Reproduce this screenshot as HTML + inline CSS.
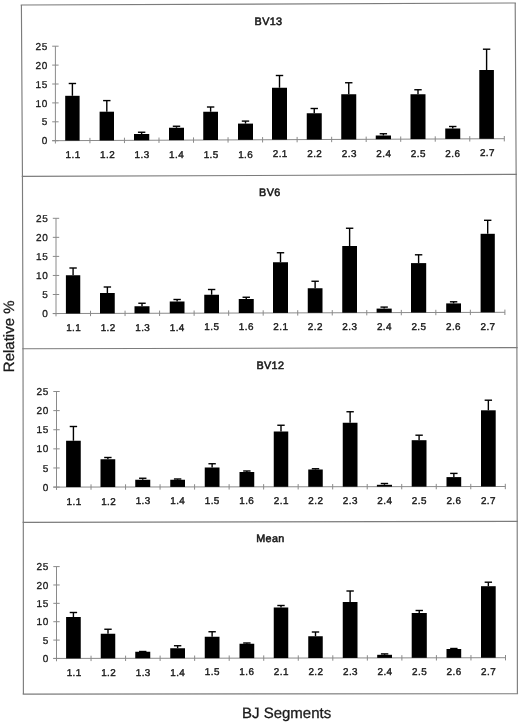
<!DOCTYPE html>
<html><head><meta charset="utf-8"><style>
html,body{margin:0;padding:0;background:#fff;}
body{width:520px;height:722px;overflow:hidden;}
svg{display:block;will-change:transform;}
text{font-family:"Liberation Sans",sans-serif;fill:#1a1a1a;text-rendering:geometricPrecision;}
.yl{font-size:10px;text-anchor:end;letter-spacing:0.6px;stroke:#1a1a1a;stroke-width:0.3px;}
.xl{font-size:9.9px;text-anchor:middle;stroke:#1a1a1a;stroke-width:0.4px;letter-spacing:0.45px;}
.tt{font-size:10.8px;text-anchor:middle;stroke:#1a1a1a;stroke-width:0.55px;letter-spacing:0.35px;}
.at{font-size:15px;text-anchor:middle;stroke:#1a1a1a;stroke-width:0.3px;}
rect{fill:#000;}
.eb{stroke:#000;stroke-width:1.4;}
</style></head><body>
<svg width="520" height="722" viewBox="0 0 520 722">
<rect x="0" y="0" width="520" height="722" style="fill:#fff"/>
<polyline points="21.4,5.05 22.45,176.44 23,348.75 23.3,522.4 23.4,694.1" fill="none" stroke="#7c7c7c" stroke-width="1.15"/>
<polyline points="515.2,3 516.15,174.4 516.9,347.6 517.2,521.4 517.4,693.7" fill="none" stroke="#7c7c7c" stroke-width="1.15"/>
<line x1="20.7" y1="5.05" x2="515.9" y2="3" stroke="#7c7c7c" stroke-width="1.15"/>
<line x1="21.75" y1="176.44" x2="516.85" y2="174.4" stroke="#7c7c7c" stroke-width="1.15"/>
<line x1="22.3" y1="348.75" x2="517.6" y2="347.6" stroke="#7c7c7c" stroke-width="1.15"/>
<line x1="22.6" y1="522.4" x2="517.9" y2="521.4" stroke="#7c7c7c" stroke-width="1.15"/>
<line x1="22.7" y1="694.1" x2="518.1" y2="693.7" stroke="#7c7c7c" stroke-width="1.15"/>
<line x1="55.4" y1="46.2" x2="55.4" y2="143.5" stroke="#8a8a8a" stroke-width="1"/>
<line x1="52.2" y1="140.7" x2="504.3" y2="138.7" stroke="#8a8a8a" stroke-width="1"/>
<line x1="52.2" y1="140.7" x2="58.6" y2="140.7" stroke="#8a8a8a" stroke-width="1"/>
<text x="47.8" y="144.3" class="yl">0</text>
<line x1="52.2" y1="121.8" x2="58.6" y2="121.8" stroke="#8a8a8a" stroke-width="1"/>
<text x="47.8" y="125.4" class="yl">5</text>
<line x1="52.2" y1="102.9" x2="58.6" y2="102.9" stroke="#8a8a8a" stroke-width="1"/>
<text x="47.8" y="106.5" class="yl">10</text>
<line x1="52.2" y1="84" x2="58.6" y2="84" stroke="#8a8a8a" stroke-width="1"/>
<text x="47.8" y="87.6" class="yl">15</text>
<line x1="52.2" y1="65.1" x2="58.6" y2="65.1" stroke="#8a8a8a" stroke-width="1"/>
<text x="47.8" y="68.7" class="yl">20</text>
<line x1="52.2" y1="46.2" x2="58.6" y2="46.2" stroke="#8a8a8a" stroke-width="1"/>
<text x="47.8" y="49.8" class="yl">25</text>
<line x1="89.93" y1="137.85" x2="89.93" y2="143.25" stroke="#8a8a8a" stroke-width="1"/>
<line x1="124.46" y1="137.69" x2="124.46" y2="143.09" stroke="#8a8a8a" stroke-width="1"/>
<line x1="158.99" y1="137.54" x2="158.99" y2="142.94" stroke="#8a8a8a" stroke-width="1"/>
<line x1="193.52" y1="137.38" x2="193.52" y2="142.78" stroke="#8a8a8a" stroke-width="1"/>
<line x1="228.05" y1="137.23" x2="228.05" y2="142.63" stroke="#8a8a8a" stroke-width="1"/>
<line x1="262.58" y1="137.08" x2="262.58" y2="142.48" stroke="#8a8a8a" stroke-width="1"/>
<line x1="297.12" y1="136.92" x2="297.12" y2="142.32" stroke="#8a8a8a" stroke-width="1"/>
<line x1="331.65" y1="136.77" x2="331.65" y2="142.17" stroke="#8a8a8a" stroke-width="1"/>
<line x1="366.18" y1="136.62" x2="366.18" y2="142.02" stroke="#8a8a8a" stroke-width="1"/>
<line x1="400.71" y1="136.46" x2="400.71" y2="141.86" stroke="#8a8a8a" stroke-width="1"/>
<line x1="435.24" y1="136.31" x2="435.24" y2="141.71" stroke="#8a8a8a" stroke-width="1"/>
<line x1="469.77" y1="136.15" x2="469.77" y2="141.55" stroke="#8a8a8a" stroke-width="1"/>
<line x1="504.3" y1="136" x2="504.3" y2="141.4" stroke="#8a8a8a" stroke-width="1"/>
<rect x="65.2" y="95.8" width="14.4" height="44.82"/>
<line x1="72.4" y1="83.5" x2="72.4" y2="95.8" class="eb"/>
<line x1="68.7" y1="83.5" x2="76.1" y2="83.5" class="eb"/>
<text x="73.07" y="158.32" class="xl">1.1</text>
<rect x="99.6" y="111.7" width="14.4" height="28.77"/>
<line x1="106.8" y1="100.6" x2="106.8" y2="111.7" class="eb"/>
<line x1="103.1" y1="100.6" x2="110.5" y2="100.6" class="eb"/>
<text x="107.6" y="158.17" class="xl">1.2</text>
<rect x="134" y="134" width="15.25" height="6.32"/>
<line x1="141.62" y1="132.25" x2="141.62" y2="134" class="eb"/>
<line x1="137.93" y1="132.25" x2="145.32" y2="132.25" class="eb"/>
<text x="142.13" y="158.01" class="xl">1.3</text>
<rect x="169" y="127.75" width="15" height="12.41"/>
<line x1="176.5" y1="126.25" x2="176.5" y2="127.75" class="eb"/>
<line x1="172.8" y1="126.25" x2="180.2" y2="126.25" class="eb"/>
<text x="176.66" y="157.86" class="xl">1.4</text>
<rect x="203.25" y="111.75" width="14.75" height="28.26"/>
<line x1="210.62" y1="107" x2="210.62" y2="111.75" class="eb"/>
<line x1="206.93" y1="107" x2="214.32" y2="107" class="eb"/>
<text x="211.19" y="157.71" class="xl">1.5</text>
<rect x="238" y="123.6" width="15" height="16.25"/>
<line x1="245.5" y1="121.1" x2="245.5" y2="123.6" class="eb"/>
<line x1="241.8" y1="121.1" x2="249.2" y2="121.1" class="eb"/>
<text x="245.72" y="157.55" class="xl">1.6</text>
<rect x="272" y="87.75" width="15" height="51.95"/>
<line x1="279.5" y1="75.5" x2="279.5" y2="87.75" class="eb"/>
<line x1="275.8" y1="75.5" x2="283.2" y2="75.5" class="eb"/>
<text x="280.25" y="157.4" class="xl">2.1</text>
<rect x="306.75" y="113.25" width="15" height="26.3"/>
<line x1="314.25" y1="108.5" x2="314.25" y2="113.25" class="eb"/>
<line x1="310.55" y1="108.5" x2="317.95" y2="108.5" class="eb"/>
<text x="314.78" y="157.24" class="xl">2.2</text>
<rect x="341.25" y="94.25" width="15" height="45.14"/>
<line x1="348.75" y1="82.75" x2="348.75" y2="94.25" class="eb"/>
<line x1="345.05" y1="82.75" x2="352.45" y2="82.75" class="eb"/>
<text x="349.31" y="157.09" class="xl">2.3</text>
<rect x="375.75" y="135.5" width="15.25" height="3.74"/>
<line x1="383.38" y1="133.75" x2="383.38" y2="135.5" class="eb"/>
<line x1="379.68" y1="133.75" x2="387.07" y2="133.75" class="eb"/>
<text x="383.84" y="156.94" class="xl">2.4</text>
<rect x="410.5" y="94.25" width="15" height="44.83"/>
<line x1="418" y1="89.75" x2="418" y2="94.25" class="eb"/>
<line x1="414.3" y1="89.75" x2="421.7" y2="89.75" class="eb"/>
<text x="418.37" y="156.78" class="xl">2.5</text>
<rect x="445.25" y="128.5" width="15" height="10.43"/>
<line x1="452.75" y1="126.5" x2="452.75" y2="128.5" class="eb"/>
<line x1="449.05" y1="126.5" x2="456.45" y2="126.5" class="eb"/>
<text x="452.9" y="156.63" class="xl">2.6</text>
<rect x="479.3" y="70" width="14.6" height="68.78"/>
<line x1="486.6" y1="49.2" x2="486.6" y2="70" class="eb"/>
<line x1="482.9" y1="49.2" x2="490.3" y2="49.2" class="eb"/>
<text x="487.43" y="156.48" class="xl">2.7</text>
<text x="268.5" y="24.9" class="tt">BV13</text>
<line x1="56" y1="218.3" x2="56" y2="316.36" stroke="#8a8a8a" stroke-width="1"/>
<line x1="52.8" y1="313.56" x2="504.9" y2="312.3" stroke="#8a8a8a" stroke-width="1"/>
<line x1="52.8" y1="313.56" x2="59.2" y2="313.56" stroke="#8a8a8a" stroke-width="1"/>
<text x="48.4" y="317.16" class="yl">0</text>
<line x1="52.8" y1="294.51" x2="59.2" y2="294.51" stroke="#8a8a8a" stroke-width="1"/>
<text x="48.4" y="298.11" class="yl">5</text>
<line x1="52.8" y1="275.46" x2="59.2" y2="275.46" stroke="#8a8a8a" stroke-width="1"/>
<text x="48.4" y="279.06" class="yl">10</text>
<line x1="52.8" y1="256.4" x2="59.2" y2="256.4" stroke="#8a8a8a" stroke-width="1"/>
<text x="48.4" y="260" class="yl">15</text>
<line x1="52.8" y1="237.35" x2="59.2" y2="237.35" stroke="#8a8a8a" stroke-width="1"/>
<text x="48.4" y="240.95" class="yl">20</text>
<line x1="52.8" y1="218.3" x2="59.2" y2="218.3" stroke="#8a8a8a" stroke-width="1"/>
<text x="48.4" y="221.9" class="yl">25</text>
<line x1="90.53" y1="310.76" x2="90.53" y2="316.16" stroke="#8a8a8a" stroke-width="1"/>
<line x1="125.06" y1="310.67" x2="125.06" y2="316.07" stroke="#8a8a8a" stroke-width="1"/>
<line x1="159.59" y1="310.57" x2="159.59" y2="315.97" stroke="#8a8a8a" stroke-width="1"/>
<line x1="194.12" y1="310.47" x2="194.12" y2="315.87" stroke="#8a8a8a" stroke-width="1"/>
<line x1="228.65" y1="310.38" x2="228.65" y2="315.78" stroke="#8a8a8a" stroke-width="1"/>
<line x1="263.18" y1="310.28" x2="263.18" y2="315.68" stroke="#8a8a8a" stroke-width="1"/>
<line x1="297.72" y1="310.18" x2="297.72" y2="315.58" stroke="#8a8a8a" stroke-width="1"/>
<line x1="332.25" y1="310.08" x2="332.25" y2="315.48" stroke="#8a8a8a" stroke-width="1"/>
<line x1="366.78" y1="309.99" x2="366.78" y2="315.39" stroke="#8a8a8a" stroke-width="1"/>
<line x1="401.31" y1="309.89" x2="401.31" y2="315.29" stroke="#8a8a8a" stroke-width="1"/>
<line x1="435.84" y1="309.79" x2="435.84" y2="315.19" stroke="#8a8a8a" stroke-width="1"/>
<line x1="470.37" y1="309.7" x2="470.37" y2="315.1" stroke="#8a8a8a" stroke-width="1"/>
<line x1="504.9" y1="309.6" x2="504.9" y2="315" stroke="#8a8a8a" stroke-width="1"/>
<rect x="65.9" y="275.25" width="14.35" height="38.26"/>
<line x1="73.08" y1="268" x2="73.08" y2="275.25" class="eb"/>
<line x1="69.38" y1="268" x2="76.78" y2="268" class="eb"/>
<text x="73.67" y="330.85" class="xl">1.1</text>
<rect x="100" y="293" width="14.75" height="20.42"/>
<line x1="107.38" y1="287" x2="107.38" y2="293" class="eb"/>
<line x1="103.67" y1="287" x2="111.08" y2="287" class="eb"/>
<text x="108.2" y="330.75" class="xl">1.2</text>
<rect x="134.5" y="306.25" width="15" height="7.07"/>
<line x1="142" y1="303.25" x2="142" y2="306.25" class="eb"/>
<line x1="138.3" y1="303.25" x2="145.7" y2="303.25" class="eb"/>
<text x="142.73" y="330.66" class="xl">1.3</text>
<rect x="169.75" y="301.5" width="14.75" height="11.72"/>
<line x1="177.12" y1="299.5" x2="177.12" y2="301.5" class="eb"/>
<line x1="173.43" y1="299.5" x2="180.82" y2="299.5" class="eb"/>
<text x="177.26" y="330.56" class="xl">1.4</text>
<rect x="204.25" y="294.75" width="14.75" height="18.37"/>
<line x1="211.62" y1="289.5" x2="211.62" y2="294.75" class="eb"/>
<line x1="207.93" y1="289.5" x2="215.32" y2="289.5" class="eb"/>
<text x="211.79" y="330.46" class="xl">1.5</text>
<rect x="238.75" y="299" width="15" height="14.03"/>
<line x1="246.25" y1="297.25" x2="246.25" y2="299" class="eb"/>
<line x1="242.55" y1="297.25" x2="249.95" y2="297.25" class="eb"/>
<text x="246.32" y="330.37" class="xl">1.6</text>
<rect x="273" y="262.25" width="15" height="50.68"/>
<line x1="280.5" y1="252.75" x2="280.5" y2="262.25" class="eb"/>
<line x1="276.8" y1="252.75" x2="284.2" y2="252.75" class="eb"/>
<text x="280.85" y="330.27" class="xl">2.1</text>
<rect x="307.75" y="288.25" width="14.75" height="24.58"/>
<line x1="315.12" y1="281.25" x2="315.12" y2="288.25" class="eb"/>
<line x1="311.43" y1="281.25" x2="318.82" y2="281.25" class="eb"/>
<text x="315.38" y="330.17" class="xl">2.2</text>
<rect x="342.25" y="246" width="14.75" height="66.74"/>
<line x1="349.62" y1="228.25" x2="349.62" y2="246" class="eb"/>
<line x1="345.93" y1="228.25" x2="353.32" y2="228.25" class="eb"/>
<text x="349.91" y="330.08" class="xl">2.3</text>
<rect x="376.6" y="308.6" width="15.1" height="4.04"/>
<line x1="384.15" y1="307.1" x2="384.15" y2="308.6" class="eb"/>
<line x1="380.45" y1="307.1" x2="387.85" y2="307.1" class="eb"/>
<text x="384.44" y="329.98" class="xl">2.4</text>
<rect x="411" y="263.1" width="15.2" height="49.44"/>
<line x1="418.6" y1="254.8" x2="418.6" y2="263.1" class="eb"/>
<line x1="414.9" y1="254.8" x2="422.3" y2="254.8" class="eb"/>
<text x="418.97" y="329.88" class="xl">2.5</text>
<rect x="446.2" y="303.4" width="14.8" height="9.04"/>
<line x1="453.6" y1="301.8" x2="453.6" y2="303.4" class="eb"/>
<line x1="449.9" y1="301.8" x2="457.3" y2="301.8" class="eb"/>
<text x="453.5" y="329.78" class="xl">2.6</text>
<rect x="480.6" y="233.8" width="14.2" height="78.55"/>
<line x1="487.7" y1="220.3" x2="487.7" y2="233.8" class="eb"/>
<line x1="484" y1="220.3" x2="491.4" y2="220.3" class="eb"/>
<text x="488.03" y="329.69" class="xl">2.7</text>
<text x="269.85" y="196.2" class="tt">BV6</text>
<line x1="56.5" y1="391.5" x2="56.5" y2="489.9" stroke="#8a8a8a" stroke-width="1"/>
<line x1="53.3" y1="487.1" x2="505.3" y2="486.5" stroke="#8a8a8a" stroke-width="1"/>
<line x1="53.3" y1="487.1" x2="59.7" y2="487.1" stroke="#8a8a8a" stroke-width="1"/>
<text x="48.9" y="490.7" class="yl">0</text>
<line x1="53.3" y1="467.98" x2="59.7" y2="467.98" stroke="#8a8a8a" stroke-width="1"/>
<text x="48.9" y="471.58" class="yl">5</text>
<line x1="53.3" y1="448.86" x2="59.7" y2="448.86" stroke="#8a8a8a" stroke-width="1"/>
<text x="48.9" y="452.46" class="yl">10</text>
<line x1="53.3" y1="429.74" x2="59.7" y2="429.74" stroke="#8a8a8a" stroke-width="1"/>
<text x="48.9" y="433.34" class="yl">15</text>
<line x1="53.3" y1="410.62" x2="59.7" y2="410.62" stroke="#8a8a8a" stroke-width="1"/>
<text x="48.9" y="414.22" class="yl">20</text>
<line x1="53.3" y1="391.5" x2="59.7" y2="391.5" stroke="#8a8a8a" stroke-width="1"/>
<text x="48.9" y="395.1" class="yl">25</text>
<line x1="91.02" y1="484.35" x2="91.02" y2="489.75" stroke="#8a8a8a" stroke-width="1"/>
<line x1="125.55" y1="484.31" x2="125.55" y2="489.71" stroke="#8a8a8a" stroke-width="1"/>
<line x1="160.07" y1="484.26" x2="160.07" y2="489.66" stroke="#8a8a8a" stroke-width="1"/>
<line x1="194.59" y1="484.22" x2="194.59" y2="489.62" stroke="#8a8a8a" stroke-width="1"/>
<line x1="229.12" y1="484.17" x2="229.12" y2="489.57" stroke="#8a8a8a" stroke-width="1"/>
<line x1="263.64" y1="484.12" x2="263.64" y2="489.52" stroke="#8a8a8a" stroke-width="1"/>
<line x1="298.16" y1="484.08" x2="298.16" y2="489.48" stroke="#8a8a8a" stroke-width="1"/>
<line x1="332.68" y1="484.03" x2="332.68" y2="489.43" stroke="#8a8a8a" stroke-width="1"/>
<line x1="367.21" y1="483.98" x2="367.21" y2="489.38" stroke="#8a8a8a" stroke-width="1"/>
<line x1="401.73" y1="483.94" x2="401.73" y2="489.34" stroke="#8a8a8a" stroke-width="1"/>
<line x1="436.25" y1="483.89" x2="436.25" y2="489.29" stroke="#8a8a8a" stroke-width="1"/>
<line x1="470.78" y1="483.85" x2="470.78" y2="489.25" stroke="#8a8a8a" stroke-width="1"/>
<line x1="505.3" y1="483.8" x2="505.3" y2="489.2" stroke="#8a8a8a" stroke-width="1"/>
<rect x="66.1" y="440.75" width="14.65" height="46.33"/>
<line x1="73.42" y1="426.5" x2="73.42" y2="440.75" class="eb"/>
<line x1="69.72" y1="426.5" x2="77.12" y2="426.5" class="eb"/>
<text x="74.16" y="504.58" class="xl">1.1</text>
<rect x="100.5" y="459.25" width="14.75" height="27.78"/>
<line x1="107.88" y1="457.5" x2="107.88" y2="459.25" class="eb"/>
<line x1="104.17" y1="457.5" x2="111.58" y2="457.5" class="eb"/>
<text x="108.68" y="504.53" class="xl">1.2</text>
<rect x="135.25" y="479.75" width="15" height="7.23"/>
<line x1="142.75" y1="478.25" x2="142.75" y2="479.75" class="eb"/>
<line x1="139.05" y1="478.25" x2="146.45" y2="478.25" class="eb"/>
<text x="143.21" y="504.48" class="xl">1.3</text>
<rect x="170.25" y="479.75" width="14.75" height="7.19"/>
<line x1="177.62" y1="479" x2="177.62" y2="479.75" class="eb"/>
<line x1="173.93" y1="479" x2="181.32" y2="479" class="eb"/>
<text x="177.73" y="504.44" class="xl">1.4</text>
<rect x="204.75" y="467.5" width="14.75" height="19.39"/>
<line x1="212.12" y1="463.75" x2="212.12" y2="467.5" class="eb"/>
<line x1="208.43" y1="463.75" x2="215.82" y2="463.75" class="eb"/>
<text x="212.25" y="504.39" class="xl">1.5</text>
<rect x="239.5" y="472" width="14.75" height="14.85"/>
<line x1="246.88" y1="471" x2="246.88" y2="472" class="eb"/>
<line x1="243.18" y1="471" x2="250.57" y2="471" class="eb"/>
<text x="246.78" y="504.35" class="xl">1.6</text>
<rect x="273.75" y="431.5" width="14.5" height="55.3"/>
<line x1="281" y1="425.25" x2="281" y2="431.5" class="eb"/>
<line x1="277.3" y1="425.25" x2="284.7" y2="425.25" class="eb"/>
<text x="281.3" y="504.3" class="xl">2.1</text>
<rect x="308.25" y="469.5" width="14.5" height="17.25"/>
<line x1="315.5" y1="468.75" x2="315.5" y2="469.5" class="eb"/>
<line x1="311.8" y1="468.75" x2="319.2" y2="468.75" class="eb"/>
<text x="315.82" y="504.25" class="xl">2.2</text>
<rect x="342.75" y="422.75" width="14.75" height="63.96"/>
<line x1="350.12" y1="411.75" x2="350.12" y2="422.75" class="eb"/>
<line x1="346.43" y1="411.75" x2="353.82" y2="411.75" class="eb"/>
<text x="350.35" y="504.21" class="xl">2.3</text>
<rect x="376.9" y="484.8" width="15.1" height="1.86"/>
<line x1="384.45" y1="483.5" x2="384.45" y2="484.8" class="eb"/>
<line x1="380.75" y1="483.5" x2="388.15" y2="483.5" class="eb"/>
<text x="384.87" y="504.16" class="xl">2.4</text>
<rect x="411.7" y="440.2" width="14.8" height="46.42"/>
<line x1="419.1" y1="435.2" x2="419.1" y2="440.2" class="eb"/>
<line x1="415.4" y1="435.2" x2="422.8" y2="435.2" class="eb"/>
<text x="419.39" y="504.11" class="xl">2.5</text>
<rect x="446.5" y="477.1" width="14.7" height="9.47"/>
<line x1="453.85" y1="473.4" x2="453.85" y2="477.1" class="eb"/>
<line x1="450.15" y1="473.4" x2="457.55" y2="473.4" class="eb"/>
<text x="453.92" y="504.07" class="xl">2.6</text>
<rect x="481" y="410.3" width="14.7" height="76.22"/>
<line x1="488.35" y1="400.2" x2="488.35" y2="410.3" class="eb"/>
<line x1="484.65" y1="400.2" x2="492.05" y2="400.2" class="eb"/>
<text x="488.44" y="504.02" class="xl">2.7</text>
<text x="270.35" y="368.8" class="tt">BV12</text>
<line x1="56.5" y1="566.6" x2="56.5" y2="661.25" stroke="#8a8a8a" stroke-width="1"/>
<line x1="53.3" y1="658.45" x2="505.5" y2="657.7" stroke="#8a8a8a" stroke-width="1"/>
<line x1="53.3" y1="658.45" x2="59.7" y2="658.45" stroke="#8a8a8a" stroke-width="1"/>
<text x="48.9" y="662.05" class="yl">0</text>
<line x1="53.3" y1="640.08" x2="59.7" y2="640.08" stroke="#8a8a8a" stroke-width="1"/>
<text x="48.9" y="643.68" class="yl">5</text>
<line x1="53.3" y1="621.71" x2="59.7" y2="621.71" stroke="#8a8a8a" stroke-width="1"/>
<text x="48.9" y="625.31" class="yl">10</text>
<line x1="53.3" y1="603.34" x2="59.7" y2="603.34" stroke="#8a8a8a" stroke-width="1"/>
<text x="48.9" y="606.94" class="yl">15</text>
<line x1="53.3" y1="584.97" x2="59.7" y2="584.97" stroke="#8a8a8a" stroke-width="1"/>
<text x="48.9" y="588.57" class="yl">20</text>
<line x1="53.3" y1="566.6" x2="59.7" y2="566.6" stroke="#8a8a8a" stroke-width="1"/>
<text x="48.9" y="570.2" class="yl">25</text>
<line x1="91.04" y1="655.69" x2="91.04" y2="661.09" stroke="#8a8a8a" stroke-width="1"/>
<line x1="125.58" y1="655.63" x2="125.58" y2="661.03" stroke="#8a8a8a" stroke-width="1"/>
<line x1="160.12" y1="655.58" x2="160.12" y2="660.98" stroke="#8a8a8a" stroke-width="1"/>
<line x1="194.65" y1="655.52" x2="194.65" y2="660.92" stroke="#8a8a8a" stroke-width="1"/>
<line x1="229.19" y1="655.46" x2="229.19" y2="660.86" stroke="#8a8a8a" stroke-width="1"/>
<line x1="263.73" y1="655.4" x2="263.73" y2="660.8" stroke="#8a8a8a" stroke-width="1"/>
<line x1="298.27" y1="655.35" x2="298.27" y2="660.75" stroke="#8a8a8a" stroke-width="1"/>
<line x1="332.81" y1="655.29" x2="332.81" y2="660.69" stroke="#8a8a8a" stroke-width="1"/>
<line x1="367.35" y1="655.23" x2="367.35" y2="660.63" stroke="#8a8a8a" stroke-width="1"/>
<line x1="401.88" y1="655.17" x2="401.88" y2="660.57" stroke="#8a8a8a" stroke-width="1"/>
<line x1="436.42" y1="655.12" x2="436.42" y2="660.52" stroke="#8a8a8a" stroke-width="1"/>
<line x1="470.96" y1="655.06" x2="470.96" y2="660.46" stroke="#8a8a8a" stroke-width="1"/>
<line x1="505.5" y1="655" x2="505.5" y2="660.4" stroke="#8a8a8a" stroke-width="1"/>
<rect x="66.1" y="617" width="14.65" height="41.42"/>
<line x1="73.42" y1="612.5" x2="73.42" y2="617" class="eb"/>
<line x1="69.72" y1="612.5" x2="77.12" y2="612.5" class="eb"/>
<text x="74.17" y="675.67" class="xl">1.1</text>
<rect x="100.75" y="633.75" width="14.5" height="24.61"/>
<line x1="108" y1="629.25" x2="108" y2="633.75" class="eb"/>
<line x1="104.3" y1="629.25" x2="111.7" y2="629.25" class="eb"/>
<text x="108.71" y="675.61" class="xl">1.2</text>
<rect x="135.25" y="651.75" width="15" height="6.56"/>
<line x1="139.05" y1="651.5" x2="146.45" y2="651.5" class="eb"/>
<text x="143.25" y="675.56" class="xl">1.3</text>
<rect x="170.25" y="648.25" width="14.75" height="10"/>
<line x1="177.62" y1="645.75" x2="177.62" y2="648.25" class="eb"/>
<line x1="173.93" y1="645.75" x2="181.32" y2="645.75" class="eb"/>
<text x="177.78" y="675.5" class="xl">1.4</text>
<rect x="204.75" y="636.75" width="14.75" height="21.44"/>
<line x1="212.12" y1="631.75" x2="212.12" y2="636.75" class="eb"/>
<line x1="208.43" y1="631.75" x2="215.82" y2="631.75" class="eb"/>
<text x="212.32" y="675.44" class="xl">1.5</text>
<rect x="239.5" y="643.75" width="14.75" height="14.38"/>
<line x1="246.88" y1="643" x2="246.88" y2="643.75" class="eb"/>
<line x1="243.18" y1="643" x2="250.57" y2="643" class="eb"/>
<text x="246.86" y="675.38" class="xl">1.6</text>
<rect x="273.75" y="607.5" width="14.5" height="50.58"/>
<line x1="281" y1="605.5" x2="281" y2="607.5" class="eb"/>
<line x1="277.3" y1="605.5" x2="284.7" y2="605.5" class="eb"/>
<text x="281.4" y="675.32" class="xl">2.1</text>
<rect x="308.25" y="636.25" width="14.5" height="21.77"/>
<line x1="315.5" y1="632" x2="315.5" y2="636.25" class="eb"/>
<line x1="311.8" y1="632" x2="319.2" y2="632" class="eb"/>
<text x="315.94" y="675.27" class="xl">2.2</text>
<rect x="342.75" y="602" width="14.75" height="55.96"/>
<line x1="350.12" y1="591" x2="350.12" y2="602" class="eb"/>
<line x1="346.43" y1="591" x2="353.82" y2="591" class="eb"/>
<text x="350.48" y="675.21" class="xl">2.3</text>
<rect x="377.2" y="654.8" width="14.8" height="3.1"/>
<line x1="384.6" y1="653.9" x2="384.6" y2="654.8" class="eb"/>
<line x1="380.9" y1="653.9" x2="388.3" y2="653.9" class="eb"/>
<text x="385.02" y="675.15" class="xl">2.4</text>
<rect x="411.7" y="613" width="15.1" height="44.84"/>
<line x1="419.25" y1="610.5" x2="419.25" y2="613" class="eb"/>
<line x1="415.55" y1="610.5" x2="422.95" y2="610.5" class="eb"/>
<text x="419.55" y="675.09" class="xl">2.5</text>
<rect x="446.5" y="649" width="14.7" height="8.79"/>
<line x1="453.85" y1="648.5" x2="453.85" y2="649" class="eb"/>
<line x1="450.15" y1="648.5" x2="457.55" y2="648.5" class="eb"/>
<text x="454.09" y="675.04" class="xl">2.6</text>
<rect x="481" y="586.2" width="14.7" height="71.53"/>
<line x1="488.35" y1="582.2" x2="488.35" y2="586.2" class="eb"/>
<line x1="484.65" y1="582.2" x2="492.05" y2="582.2" class="eb"/>
<text x="488.63" y="674.98" class="xl">2.7</text>
<text x="270.4" y="542.2" class="tt">Mean</text>
<text x="0" y="0" class="at" transform="translate(13.9 336.3) rotate(-90)">Relative %</text>
<text x="286.6" y="717.7" class="at">BJ Segments</text>
</svg>
</body></html>
